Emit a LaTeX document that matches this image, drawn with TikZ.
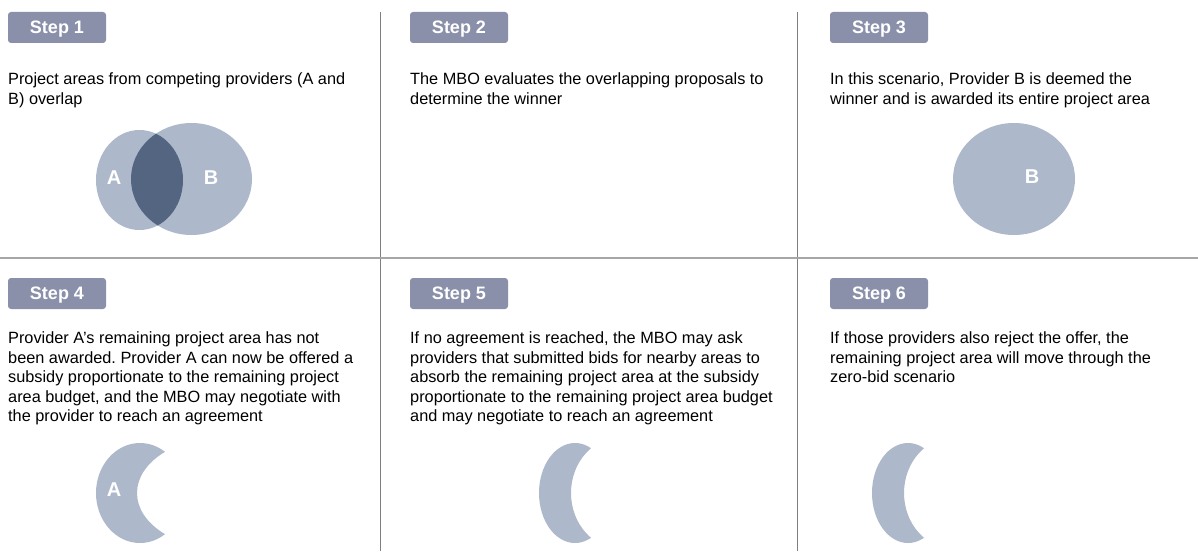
\documentclass[tikz,border=0pt]{standalone}
\usepackage{fontspec}
\setmainfont{Liberation Sans}
\usepackage{tikz}
\usetikzlibrary{calc}
\definecolor{stepgray}{HTML}{8A90AA}
\definecolor{arealight}{HTML}{ADB9CB}
\definecolor{areadark}{HTML}{536580}
\definecolor{lineV}{HTML}{7F7F7F}
\definecolor{lineH}{HTML}{A6A6A6}
\frenchspacing

\begin{document}
\begin{tikzpicture}[x=1pt, y=-1pt,
  stepbox/.style={fill=stepgray, rounded corners=3pt, minimum width=98pt, minimum height=31pt,
    inner sep=0pt, text=white, text height=12.9pt, text depth=0pt,
    font=\fontsize{18}{20}\selectfont\bfseries},
  desc/.style={anchor=north west, inner sep=0pt, align=left, text=black,
    font=\fontsize{16.3}{19.5}\selectfont},
  lbl/.style={text=white, inner sep=0pt, font=\fontsize{20}{22}\selectfont\bfseries}]
\useasboundingbox (0,0) rectangle (1198,551);
\fill[white] (0,0) rectangle (1198,551);
\draw[lineV, line width=1pt] (380,12)--(380,551);
\draw[lineV, line width=1pt] (797,12)--(797,551);
\draw[lineH, line width=1.5pt] (0,258)--(1198,258);
\foreach \n/\x/\y in {1/57/27.5, 2/459/27.5, 3/879/27.5, 4/57/293.5, 5/459/293.5, 6/879/293.5}
  \node[stepbox] (step\n) at (\x,\y) {Step \n};
\node[desc] (txt1) at (8,72.5) {Project areas from competing providers (A and\\B) overlap};
\node[desc] (txt2) at (410,72.5) {The MBO evaluates the overlapping proposals to\\determine the winner};
\node[desc] (txt3) at (830,72.5) {In this scenario, Provider B is deemed the\\winner and is awarded its entire project area};
\node[desc] (txt4) at (8,331.6) {Provider A’s remaining project area has not\\been awarded. Provider A can now be offered a\\subsidy proportionate to the remaining project\\area budget, and the MBO may negotiate with\\the provider to reach an agreement};
\node[desc] (txt5) at (410,331.6) {If no agreement is reached, the MBO may ask\\providers that submitted bids for nearby areas to\\absorb the remaining project area at the subsidy\\proportionate to the remaining project area budget\\and may negotiate to reach an agreement};
\node[desc] (txt6) at (830,331.6) {If those providers also reject the offer, the\\remaining project area will move through the\\zero-bid scenario};
% step 1
\fill[arealight] (139.5,180) ellipse [x radius=43.5, y radius=50];
\fill[arealight] (191.5,179) ellipse [x radius=60.5, y radius=56];
\begin{scope}
\clip (139.5,180) ellipse [x radius=43.5, y radius=50];
\fill[areadark] (191.5,179) ellipse [x radius=60.5, y radius=56];
\end{scope}
\node[lbl] (labA1) at (114,178) {A};
\node[lbl] (labB1) at (211,178) {B};
% step 3
\fill[arealight] (1014,179) ellipse [x radius=61, y radius=56];
\node[lbl] (labB3) at (1032,177) {B};
% steps 4 to 6
\begin{scope}[even odd rule]
\clip (0,0) rectangle (1198,551) (224,493) ellipse [x radius=87, y radius=56];
\fill[arealight] (140,493) ellipse [x radius=44, y radius=50];
\end{scope}
\node[lbl] (labA4) at (114,490) {A};
\foreach \cx in {575, 908} {
  \begin{scope}[even odd rule]
  \clip (0,0) rectangle (1198,551) (\cx+46,493) ellipse [x radius=50, y radius=56];
  \fill[arealight] (\cx,493) ellipse [x radius=36, y radius=50];
  \end{scope}
}
\end{tikzpicture}
\end{document}
